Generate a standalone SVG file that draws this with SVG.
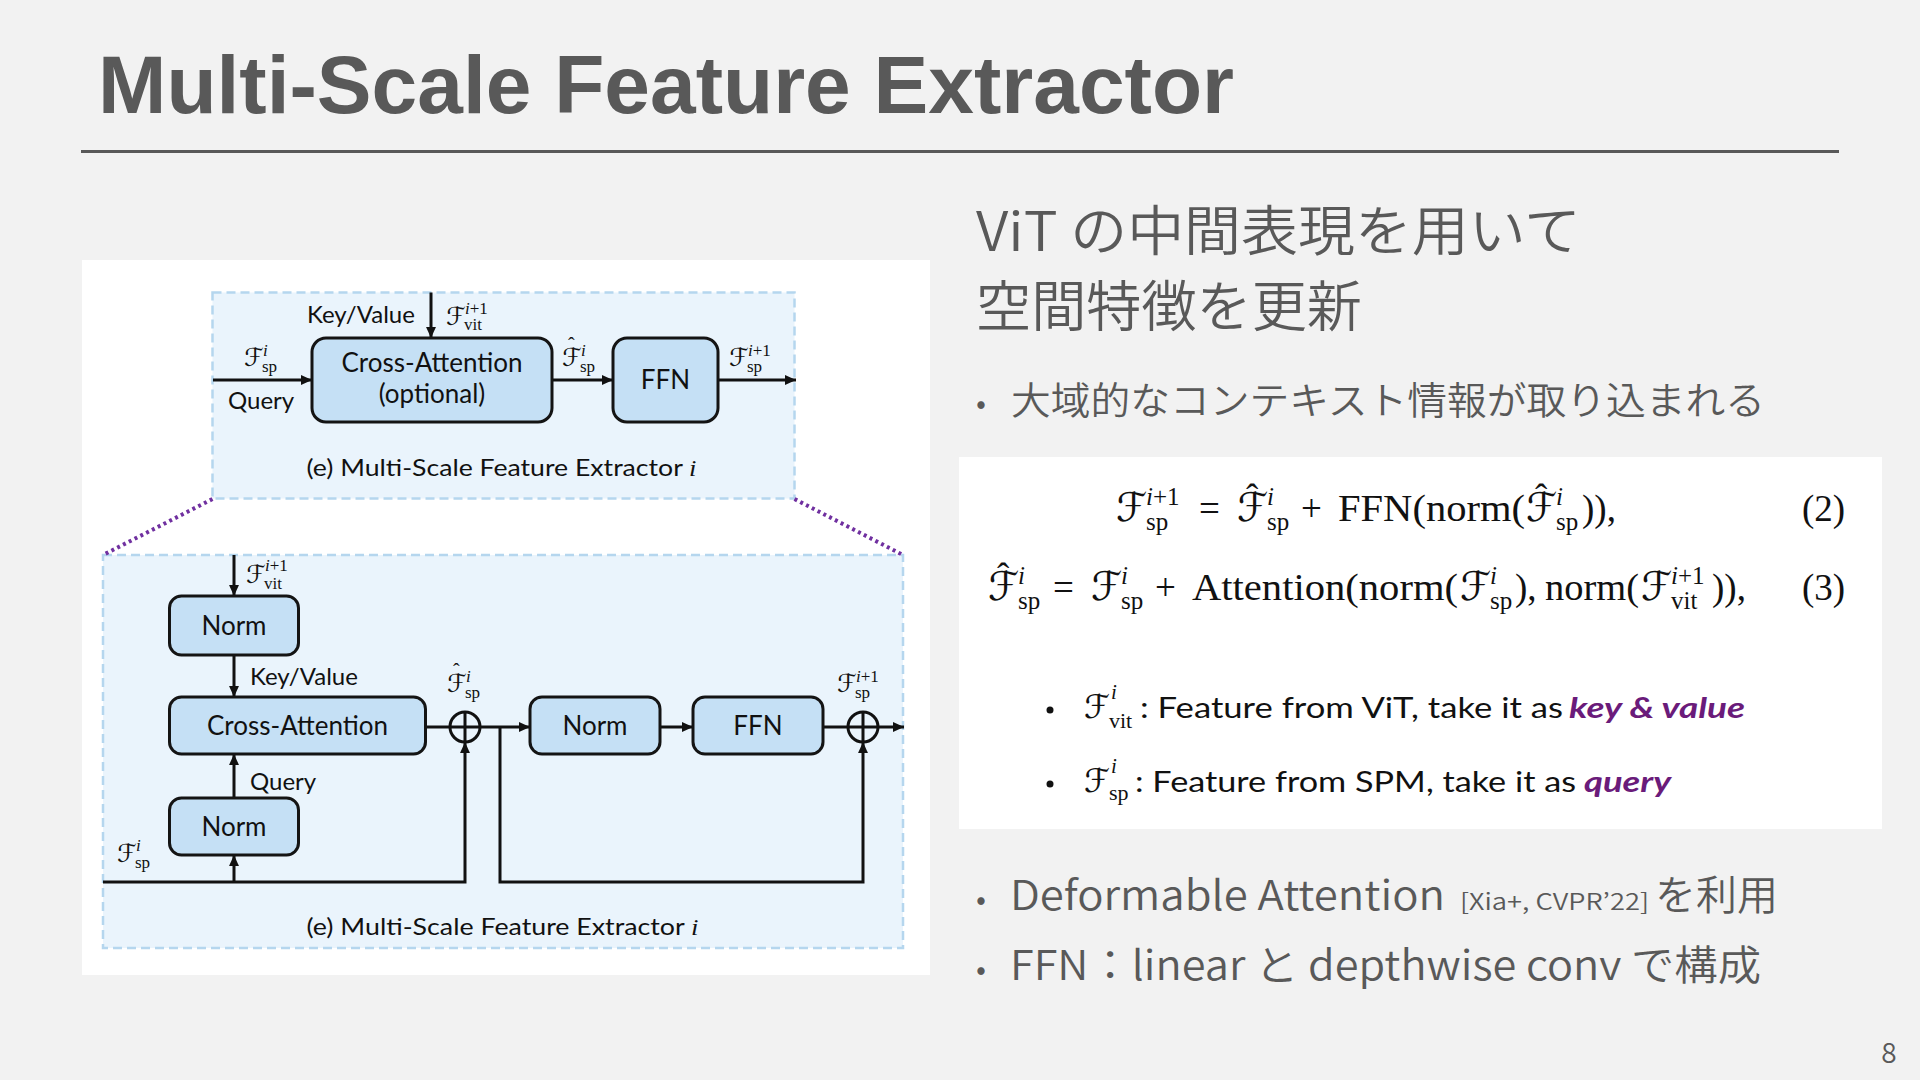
<svg xmlns="http://www.w3.org/2000/svg" width="1920" height="1080" viewBox="0 0 1920 1080">
<defs>
<style>
.title{font-family:"Liberation Sans",Arial,sans-serif;font-weight:bold;font-size:82px;fill:#595959}
.jp{font-family:"Noto Sans CJK JP","Noto Sans",sans-serif;font-weight:350;fill:#595959}
.lbl{font-family:Lato,"Open Sans",sans-serif;font-size:24px;fill:#111}
.box{fill:#c5e0f5;stroke:#141414;stroke-width:3}
.btxt{font-family:Lato,"Open Sans",sans-serif;font-size:26px;fill:#111;text-anchor:middle}
.dash{fill:#eaf4fc;stroke:#b5d6ee;stroke-width:2.5;stroke-dasharray:9 5}
.m{font-family:"Liberation Serif","Times New Roman",serif;fill:#111}
.F{font-family:"DejaVu Serif","DejaVu Sans","Noto Sans",serif;font-style:normal}
.it{font-style:italic}
.conn{fill:none;stroke:#111;stroke-width:3}
.arr{marker-end:url(#ah)}
.dot{fill:none;stroke:#7030a0;stroke-width:4;stroke-dasharray:3 3.5}
.eq{font-family:"Liberation Serif","Times New Roman",serif;font-size:37px;fill:#111}
.eqs{font-family:"Liberation Serif","Times New Roman",serif;font-size:25px;fill:#111}
.bt{font-family:Lato,"Open Sans",sans-serif;font-size:29px;fill:#111}
.em{font-family:Lato,"Open Sans",sans-serif;font-size:29px;font-weight:bold;font-style:italic;fill:#6a1b7a}
</style>
<marker id="ah" viewBox="0 0 10 10" refX="10" refY="5" markerWidth="12" markerHeight="11" markerUnits="userSpaceOnUse" orient="auto">
<path d="M0,0.5 L10,5 L0,9.5 z" fill="#111"/>
</marker>
</defs>

<rect width="1920" height="1080" fill="#f2f2f2"/>

<g id="title">
<text class="title" x="98" y="113" textLength="1136" lengthAdjust="spacingAndGlyphs">Multi-Scale Feature Extractor</text>
<line x1="81" y1="151.5" x2="1839" y2="151.5" stroke="#595959" stroke-width="3"/>
</g>

<rect id="figure-panel" x="82" y="260" width="848" height="715" fill="#ffffff"/>

<g id="top-extractor">
<rect class="dash" x="212.5" y="292.5" width="582" height="206"/>
<text class="lbl" x="306.5" y="476" textLength="390" lengthAdjust="spacingAndGlyphs">(e) Multi-Scale Feature Extractor <tspan font-family="Liberation Serif,serif" font-style="italic">i</tspan></text>
</g>

<g id="bottom-extractor">
<rect class="dash" x="103" y="555" width="800" height="393"/>
<text class="lbl" x="306.5" y="935" textLength="392" lengthAdjust="spacingAndGlyphs">(e) Multi-Scale Feature Extractor <tspan font-family="Liberation Serif,serif" font-style="italic">i</tspan></text>
</g>

<g id="zoom-lines">
<line class="dot" x1="212.5" y1="499" x2="103" y2="555"/>
<line class="dot" x1="794.5" y1="499" x2="903" y2="555"/>
</g>

<g id="connectors">
<line class="conn arr" x1="213" y1="380" x2="312" y2="380"/>
<line class="conn arr" x1="431" y1="292.5" x2="431" y2="338"/>
<line class="conn arr" x1="552" y1="380" x2="613" y2="380"/>
<line class="conn arr" x1="718" y1="380" x2="796" y2="380"/>
<line class="conn arr" x1="234" y1="555" x2="234" y2="596"/>
<line class="conn arr" x1="234" y1="655" x2="234" y2="697"/>
<line class="conn arr" x1="234" y1="798" x2="234" y2="754"/>
<line class="conn arr" x1="234" y1="882" x2="234" y2="855"/>
<polyline class="conn arr" points="103,882 465,882 465,742"/>
<line class="conn" x1="425" y1="727" x2="450" y2="727"/>
<line class="conn arr" x1="480" y1="727" x2="530" y2="727"/>
<polyline class="conn arr" points="500,727 500,882 863,882 863,742"/>
<line class="conn arr" x1="660" y1="727" x2="693" y2="727"/>
<line class="conn" x1="823" y1="727" x2="848" y2="727"/>
<line class="conn arr" x1="878" y1="727" x2="904" y2="727"/>
</g>

<g id="top-cross-attention">
<rect class="box" x="312" y="338" width="240" height="84" rx="14"/>
<text class="btxt" x="432" y="372">Cross-Attention</text>
<text class="btxt" x="432" y="403">(optional)</text>
</g>
<g id="top-ffn">
<rect class="box" x="613" y="338" width="105" height="84" rx="14"/>
<text class="btxt" x="665.5" y="389">FFN</text>
</g>

<g id="top-labels">
<text class="lbl" x="307" y="323">Key/Value</text>
<text class="lbl" x="228" y="409">Query</text>
<text class="m" font-size="17"><tspan class="F" x="244" y="366" font-size="25">ℱ</tspan><tspan class="it" x="263" y="356">i</tspan><tspan x="262" y="372">sp</tspan></text>
<text class="m" font-size="17"><tspan class="F" x="446" y="325" font-size="25">ℱ</tspan><tspan class="it" x="465" y="314">i</tspan><tspan>+1</tspan><tspan x="464" y="330">vit</tspan></text>
<text class="m" font-size="17"><tspan class="F" x="562" y="366" font-size="25">ℱ</tspan><tspan x="568" y="352" font-size="20">ˆ</tspan><tspan class="it" x="581" y="356">i</tspan><tspan x="580" y="372">sp</tspan></text>
<text class="m" font-size="17"><tspan class="F" x="729" y="366" font-size="25">ℱ</tspan><tspan class="it" x="748" y="356">i</tspan><tspan>+1</tspan><tspan x="747" y="372">sp</tspan></text>
</g>

<g id="norm-kv">
<rect class="box" x="169.5" y="596" width="129" height="59" rx="12"/>
<text class="btxt" x="234" y="635">Norm</text>
</g>
<g id="cross-attention">
<rect class="box" x="169.5" y="697" width="256" height="57" rx="12"/>
<text class="btxt" x="297.5" y="735">Cross-Attention</text>
</g>
<g id="norm-query">
<rect class="box" x="169.5" y="798" width="129" height="57" rx="12"/>
<text class="btxt" x="234" y="836">Norm</text>
</g>
<g id="norm-mid">
<rect class="box" x="530" y="697" width="130" height="57" rx="12"/>
<text class="btxt" x="595" y="735">Norm</text>
</g>
<g id="ffn">
<rect class="box" x="693" y="697" width="130" height="57" rx="12"/>
<text class="btxt" x="758" y="735">FFN</text>
</g>
<g id="add-1">
<circle cx="465" cy="727" r="15" fill="none" stroke="#111" stroke-width="3"/>
<line x1="450" y1="727" x2="480" y2="727" stroke="#111" stroke-width="3"/>
<line x1="465" y1="712" x2="465" y2="742" stroke="#111" stroke-width="3"/>
</g>
<g id="add-2">
<circle cx="863" cy="727" r="15" fill="none" stroke="#111" stroke-width="3"/>
<line x1="848" y1="727" x2="878" y2="727" stroke="#111" stroke-width="3"/>
<line x1="863" y1="712" x2="863" y2="742" stroke="#111" stroke-width="3"/>
</g>

<g id="bottom-labels">
<text class="lbl" x="250" y="685">Key/Value</text>
<text class="lbl" x="250" y="790">Query</text>
<text class="m" font-size="17"><tspan class="F" x="246" y="583" font-size="25">ℱ</tspan><tspan class="it" x="265" y="571">i</tspan><tspan>+1</tspan><tspan x="264" y="589">vit</tspan></text>
<text class="m" font-size="17"><tspan class="F" x="447" y="692" font-size="25">ℱ</tspan><tspan x="453" y="678" font-size="20">ˆ</tspan><tspan class="it" x="466" y="682">i</tspan><tspan x="465" y="698">sp</tspan></text>
<text class="m" font-size="17"><tspan class="F" x="837" y="692" font-size="25">ℱ</tspan><tspan class="it" x="856" y="682">i</tspan><tspan>+1</tspan><tspan x="855" y="698">sp</tspan></text>
<text class="m" font-size="17"><tspan class="F" x="117" y="862" font-size="25">ℱ</tspan><tspan class="it" x="136" y="851">i</tspan><tspan x="135" y="868">sp</tspan></text>
</g>

<g id="heading">
<text class="jp" x="976" y="251" font-size="54" textLength="605" lengthAdjust="spacingAndGlyphs">ViT の中間表現を用いて</text>
<text class="jp" x="976" y="326" font-size="55" textLength="386" lengthAdjust="spacingAndGlyphs">空間特徴を更新</text>
</g>
<g id="bullet-context">
<text class="jp" x="976" y="414" font-size="30">•</text>
<text class="jp" x="1011" y="414" font-size="38" textLength="754" lengthAdjust="spacingAndGlyphs">大域的なコンテキスト情報が取り込まれる</text>
</g>

<g id="equation-panel">
<rect x="959" y="457" width="923" height="372" fill="#ffffff"/>
<!-- Eq 2 -->
<text class="eqs"><tspan class="F" x="1116" y="521" font-size="40">ℱ</tspan><tspan class="it" x="1146" y="505">i</tspan><tspan>+1</tspan><tspan x="1146" y="530">sp</tspan></text>
<text class="eq" x="1199" y="521">=</text>
<text class="eqs"><tspan class="F" x="1237" y="521" font-size="40">ℱ</tspan><tspan x="1246" y="510" font-size="37">ˆ</tspan><tspan class="it" x="1267" y="505">i</tspan><tspan x="1267" y="530">sp</tspan></text>
<text class="eq" x="1301" y="521">+</text>
<text class="eq" x="1338" y="521" textLength="187" lengthAdjust="spacingAndGlyphs">FFN(norm(</text>
<text class="eqs"><tspan class="F" x="1526" y="521" font-size="40">ℱ</tspan><tspan x="1535" y="510" font-size="37">ˆ</tspan><tspan class="it" x="1556" y="505">i</tspan><tspan x="1556" y="530">sp</tspan></text>
<text class="eq" x="1582" y="521">)),</text>
<text class="eq" x="1802" y="521">(2)</text>
<!-- Eq 3 -->
<text class="eqs"><tspan class="F" x="988" y="600" font-size="40">ℱ</tspan><tspan x="997" y="589" font-size="37">ˆ</tspan><tspan class="it" x="1018" y="584">i</tspan><tspan x="1018" y="609">sp</tspan></text>
<text class="eq" x="1053" y="600">=</text>
<text class="eqs"><tspan class="F" x="1091" y="600" font-size="40">ℱ</tspan><tspan class="it" x="1121" y="584">i</tspan><tspan x="1121" y="609">sp</tspan></text>
<text class="eq" x="1155" y="600">+</text>
<text class="eq" x="1192" y="600" textLength="266" lengthAdjust="spacingAndGlyphs">Attention(norm(</text>
<text class="eqs"><tspan class="F" x="1460" y="600" font-size="40">ℱ</tspan><tspan class="it" x="1490" y="584">i</tspan><tspan x="1490" y="609">sp</tspan></text>
<text class="eq" x="1515" y="600">),</text>
<text class="eq" x="1545" y="600" textLength="94" lengthAdjust="spacingAndGlyphs">norm(</text>
<text class="eqs"><tspan class="F" x="1641" y="600" font-size="40">ℱ</tspan><tspan class="it" x="1671" y="584">i</tspan><tspan>+1</tspan><tspan x="1671" y="609">vit</tspan></text>
<text class="eq" x="1712" y="600">)),</text>
<text class="eq" x="1802" y="600">(3)</text>
<!-- bullets -->
<circle cx="1050" cy="710" r="3.5" fill="#111"/>
<text class="m"><tspan class="F" x="1084" y="718" font-size="33">ℱ</tspan><tspan class="it" x="1111" y="699" font-size="21">i</tspan><tspan x="1109" y="728" font-size="22">vit</tspan></text>
<text class="bt" x="1140" y="718" textLength="423" lengthAdjust="spacingAndGlyphs">: Feature from ViT, take it as</text>
<text class="em" x="1569" y="718" textLength="176" lengthAdjust="spacingAndGlyphs">key &amp; value</text>
<circle cx="1050" cy="784" r="3.5" fill="#111"/>
<text class="m"><tspan class="F" x="1084" y="792" font-size="33">ℱ</tspan><tspan class="it" x="1111" y="773" font-size="21">i</tspan><tspan x="1109" y="800" font-size="22">sp</tspan></text>
<text class="bt" x="1135" y="792" textLength="441" lengthAdjust="spacingAndGlyphs">: Feature from SPM, take it as</text>
<text class="em" x="1584" y="792" textLength="87" lengthAdjust="spacingAndGlyphs">query</text>
</g>

<g id="bullet-deformable">
<text class="jp" x="976" y="910" font-size="30">•</text>
<text class="jp" x="1010" y="910" font-size="41" textLength="435" lengthAdjust="spacingAndGlyphs">Deformable Attention</text>
<text class="jp" x="1460" y="910" font-size="23" textLength="189" lengthAdjust="spacingAndGlyphs">[Xia+, CVPR’22]</text>
<text class="jp" x="1655" y="910" font-size="41">を利用</text>
</g>
<g id="bullet-ffn">
<text class="jp" x="976" y="980" font-size="30">•</text>
<text class="jp" x="1010" y="980" font-size="41" textLength="751" lengthAdjust="spacingAndGlyphs">FFN：linear と depthwise conv で構成</text>
</g>

<text id="page-number" class="jp" x="1889" y="1063" font-size="28" text-anchor="middle" fill="#8c8c8c">8</text>
</svg>
